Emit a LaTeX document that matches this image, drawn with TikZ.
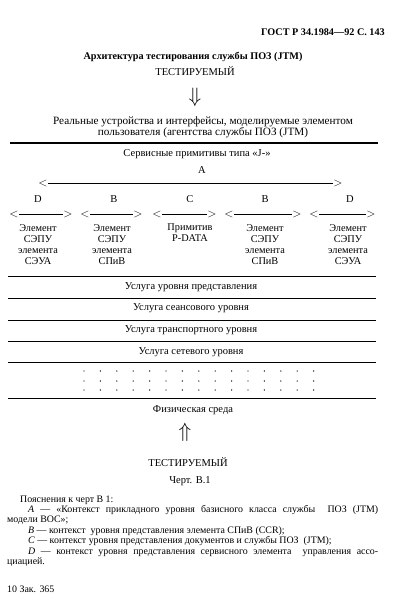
\documentclass[tikz,border=0pt]{standalone}
\usepackage{fontspec}
\setmainfont{Liberation Serif}
\begin{document}
\begin{tikzpicture}[x=1pt,y=-1pt,
  txt/.style={inner sep=0pt, font=\fontsize{10.5}{11}\selectfont},
  wtxt/.style={inner sep=0pt, font=\fontsize{11.2}{11}\selectfont},
  btxt/.style={inner sep=0pt, font=\fontsize{10.2}{11}\bfseries\selectfont},
  note/.style={inner sep=0pt, anchor=west, font=\fontsize{9.9}{10}\selectfont},
  col/.style={inner sep=0pt, align=center, font=\fontsize{10.3}{11}\selectfont},
  chev/.style={inner sep=0.5pt, font=\fontsize{12}{12}\selectfont},
  arr/.style={line width=0.7pt},
  lay/.style={line width=0.9pt},
  bigarrow/.style={inner sep=0pt, font=\fontsize{21}{21}\selectfont}]
\useasboundingbox (0,0) rectangle (406,611);

% header
\node[btxt, anchor=east] (hdr) at (385,32) {ГОСТ Р 34.1984—92 С. 143};
\node[btxt] (title) at (193,57) {Архитектура тестирования службы ПОЗ (JTM)};
\node[txt] (tst1) at (195,71) {ТЕСТИРУЕМЫЙ};
\node[bigarrow] (dn) at (195,97) {$\Downarrow$};

\node[wtxt] (real1) at (203,122) {Реальные устройства и интерфейсы, моделируемые элементом};
\node[wtxt] (real2) at (203,133) {пользователя (агентства службы ПОЗ (JTM)};
\coordinate (tl) at (10,143);
\coordinate (tr) at (378,143);
\draw[line width=1.5pt] (tl) -- (tr);

\node[txt] (serv) at (197,154) {Сервисные примитивы типа «J-»};
\node[txt] (lA) at (202,170) {A};
\node[chev] (Al) at (43,183) {$<$};
\node[chev] (Ar) at (338,183) {$>$};
\draw[arr] (Al) -- (Ar);

% letters
\node[txt] (l1) at (38,199) {D};
\node[txt] (l2) at (114,199) {B};
\node[txt] (l3) at (190,199) {C};
\node[txt] (l4) at (265,199) {B};
\node[txt] (l5) at (350,199) {D};

% small arrows
\foreach \i/\a/\b in {1/14/68, 2/85/138, 3/157/212, 4/229/297, 5/314/371}{
  \node[chev] (s\i l) at (\a,214) {$<$};
  \node[chev] (s\i r) at (\b,214) {$>$};
  \draw[arr] (s\i l) -- (s\i r);
}

% column texts
\node[col, anchor=north] (c1) at (38,224) {Элемент\\СЭПУ\\элемента\\СЭУА};
\node[col, anchor=north] (c2) at (112,224) {Элемент\\СЭПУ\\элемента\\СПиВ};
\node[col, anchor=north] (c3) at (190,224) {Примитив\\P-DATA};
\node[col, anchor=north] (c4) at (265,224) {Элемент\\СЭПУ\\элемента\\СПиВ};
\node[col, anchor=north] (c5) at (348,224) {Элемент\\СЭПУ\\элемента\\СЭУА};

% layer lines
\foreach \n/\y in {1/276, 2/298, 3/320, 4/341, 5/362, 6/398}{
  \coordinate (L\n a) at (8,\y);
  \coordinate (L\n b) at (376,\y);
  \draw[lay] (L\n a) -- (L\n b);
}
\node[txt] (u1) at (191,287) {Услуга уровня представления};
\node[txt] (u2) at (191,308) {Услуга сеансового уровня};
\node[txt] (u3) at (191,330) {Услуга транспортного уровня};
\node[txt] (u4) at (191,352) {Услуга сетевого уровня};

% dots
\foreach \k in {0,...,14}{
  \foreach \yy in {371,381,390}{
    \fill ({84+16.4*\k},\yy) circle (0.7pt);
  }
}

\node[txt] (phys) at (193,410) {Физическая среда};
\node[bigarrow] (up) at (185,432) {$\Uparrow$};
\node[txt] (tst2) at (188,462) {ТЕСТИРУЕМЫЙ};
\node[txt] (fig) at (190,481) {Черт. В.1};

% notes
\node[note] (n0) at (20,500) {Пояснения к черт В 1:};
\node[note] (n1) at (28,510) {\makebox[350pt][s]{\textit{A} — «Контекст прикладного уровня базисного класса службы \ ПОЗ (JTM)}};
\node[note] (n2) at (7,520) {модели ВОС»;};
\node[note] (n3) at (28,531) {\textit{B} — контекст \ уровня представления элемента СПиВ (CCR);};
\node[note] (n4) at (28,541) {\textit{C} — контекст уровня представления документов и службы ПОЗ \ (JTM);};
\node[note] (n5) at (28,552) {\makebox[350pt][s]{\textit{D} — контекст уровня представления сервисного элемента \ управления ассо-}};
\node[note] (n6) at (7,562) {циацией.};
\node[note] (n7) at (7,589) {10 Зак. 365};
\end{tikzpicture}
\end{document}
